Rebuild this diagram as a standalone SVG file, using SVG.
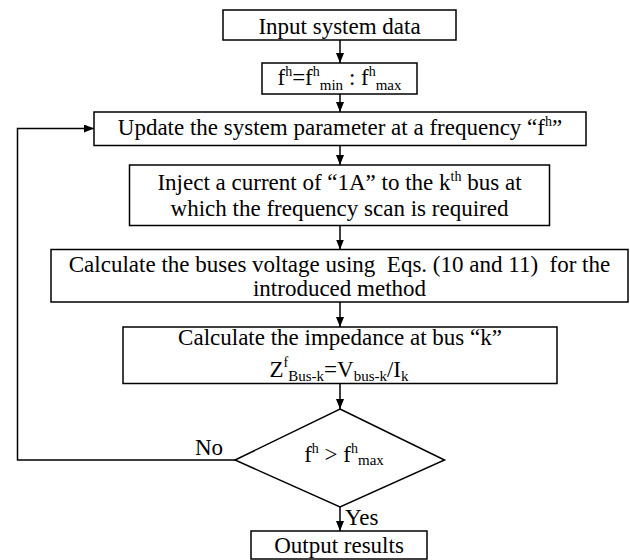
<svg xmlns="http://www.w3.org/2000/svg" width="630" height="560" viewBox="0 0 630 560" font-family="'Liberation Serif', 'Times New Roman', 'DejaVu Serif', serif">
<style>
.box{fill:#fff;stroke:#000;stroke-width:1.5}
.ln{fill:none;stroke:#000;stroke-width:1.5}
.t{font-family:'Liberation Serif','Times New Roman',serif;font-size:23px;fill:#000}
.c{text-anchor:middle}
.s{font-size:14px}
.b{font-size:15px}
</style>
<defs>
<marker id="ah" markerUnits="userSpaceOnUse" markerWidth="10" markerHeight="8" refX="10" refY="4" orient="auto">
<path d="M0,0 L10,4 L0,8 z" fill="#000"/>
</marker>
</defs>
<rect width="630" height="560" fill="#fff"/>
<g id="connectors">
<line class="ln" x1="340" y1="40" x2="340" y2="63" marker-end="url(#ah)"/>
<line class="ln" x1="340" y1="94" x2="340" y2="112" marker-end="url(#ah)"/>
<line class="ln" x1="340" y1="145.5" x2="340" y2="165" marker-end="url(#ah)"/>
<line class="ln" x1="340" y1="225.5" x2="340" y2="249.5" marker-end="url(#ah)"/>
<line class="ln" x1="340" y1="302" x2="340" y2="327" marker-end="url(#ah)"/>
<line class="ln" x1="340" y1="383.5" x2="340" y2="409" marker-end="url(#ah)"/>
<line class="ln" x1="340" y1="507" x2="340" y2="531" marker-end="url(#ah)"/>
<polyline class="ln" points="235,460 17.5,460 17.5,128.5 94,128.5" marker-end="url(#ah)"/>
<text class="t" x="195" y="455">No</text>
<text class="t" x="345" y="525">Yes</text>
</g>
<g id="input">
<rect class="box" x="223" y="10" width="233" height="30"/>
<text class="t c" x="339.5" y="34">Input system data</text>
</g>
<g id="range">
<rect class="box" x="262" y="63" width="155" height="31"/>
<text class="t c" x="339.5" y="85">f<tspan class="s" dy="-9">h</tspan><tspan dy="9">=f</tspan><tspan class="s" dy="-9">h</tspan><tspan class="b" dy="14">min</tspan><tspan dy="-5"> : f</tspan><tspan class="s" dy="-9">h</tspan><tspan class="b" dy="14">max</tspan></text>
</g>
<g id="update">
<rect class="box" x="94" y="112" width="492" height="33.5"/>
<text class="t c" x="340" y="135">Update the system parameter at a frequency “f<tspan class="s" dy="-9">h</tspan><tspan dy="9">”</tspan></text>
</g>
<g id="inject">
<rect class="box" x="129.5" y="165" width="420" height="60.5"/>
<text class="t c" x="339.5" y="190">Inject a current of “1A” to the k<tspan class="s" dy="-9">th</tspan><tspan dy="9"> bus at</tspan></text>
<text class="t c" x="339.5" y="216">which the frequency scan is required</text>
</g>
<g id="voltage">
<rect class="box" x="51" y="249.5" width="577" height="52.5"/>
<text class="t c" x="339.5" y="272" xml:space="preserve">Calculate the buses voltage using  Eqs. (10 and 11)  for the</text>
<text class="t c" x="339.5" y="296">introduced method</text>
</g>
<g id="impedance">
<rect class="box" x="123" y="327" width="434" height="56.5"/>
<text class="t c" x="340" y="345">Calculate the impedance at bus “k”</text>
<text class="t c" x="339" y="377">Z<tspan class="s" dy="-10">f</tspan><tspan class="b" dy="14">Bus-k</tspan><tspan dy="-4">=V</tspan><tspan class="b" dy="4">bus-k</tspan><tspan dy="-4">/I</tspan><tspan class="b" dy="4">k</tspan></text>
</g>
<g id="decision">
<polygon class="box" points="340,409 444.5,460 340,507 235,460"/>
<text class="t c" x="344" y="462">f<tspan class="s" dy="-9">h</tspan><tspan dy="9"> &gt; f</tspan><tspan class="s" dy="-9">h</tspan><tspan class="b" dy="12">max</tspan></text>
</g>
<g id="output">
<rect class="box" x="251" y="531" width="176" height="28"/>
<text class="t c" x="339" y="553">Output results</text>
</g>
</svg>
